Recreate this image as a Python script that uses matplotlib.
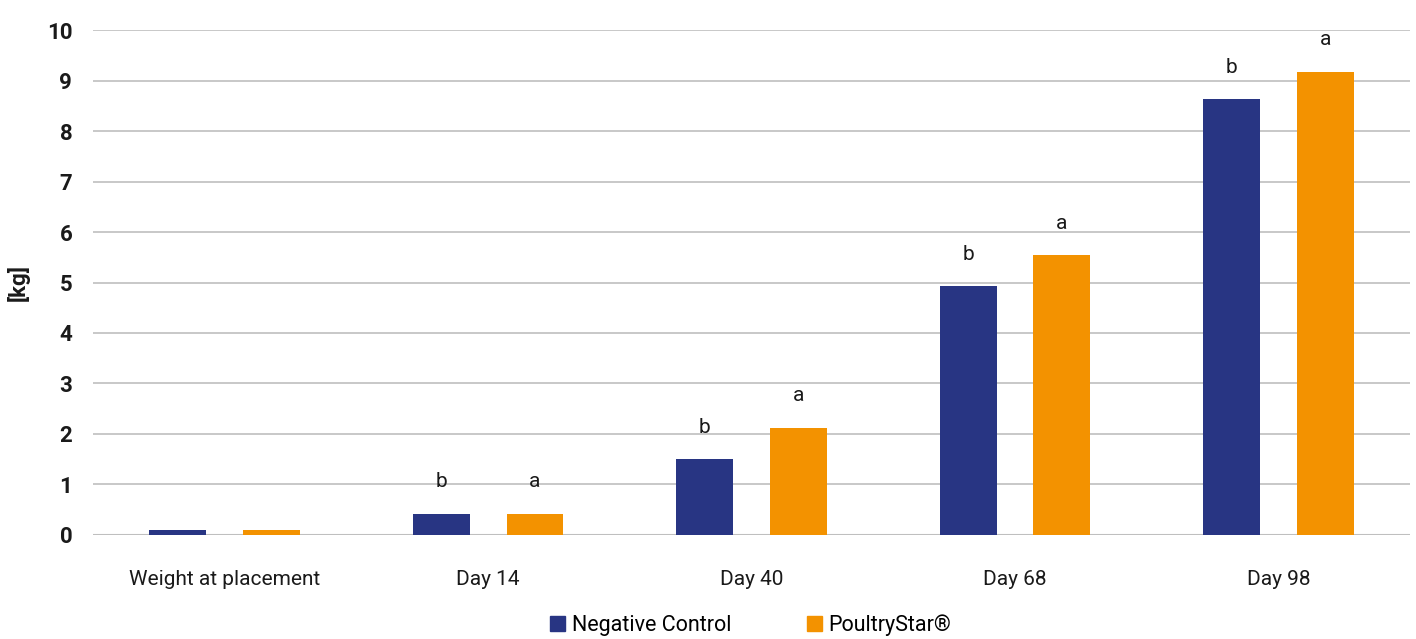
import matplotlib
matplotlib.use("Agg")
import matplotlib.pyplot as plt
import numpy as np
from matplotlib.patches import Patch

categories = ["Weight at placement", "Day 14", "Day 40", "Day 68", "Day 98"]
negative_control = [0.10, 0.42, 1.50, 4.93, 8.63]
poultrystar = [0.10, 0.42, 2.12, 5.54, 9.17]
nc_letters = ["", "b", "b", "b", "b"]
ps_letters = ["", "a", "a", "a", "a"]
series_names = ["Negative Control", "PoultryStar®"]
yticks = list(range(0, 11))

NAVY = "#283583"
ORANGE = "#F39200"

plt.rcParams['font.family'] = ['Roboto', 'DejaVu Sans']

fig = plt.figure(figsize=(14.16, 6.39), dpi=100)
ax = fig.add_axes([0.0657, 0.1628, 0.9301, 0.7902])

x = np.arange(len(categories))
off = 0.178
w = 0.216
ax.bar(x - off, negative_control, w, color=NAVY, zorder=3)
ax.bar(x + off, poultrystar, w, color=ORANGE, zorder=3)

for xi, v, t in zip(x - off, negative_control, nc_letters):
    if t:
        ax.annotate(t, (xi, v), xytext=(0, 23), textcoords="offset points",
                    ha="center", va="center", fontsize=15, color="#1a1a1a")
for xi, v, t in zip(x + off, poultrystar, ps_letters):
    if t:
        ax.annotate(t, (xi, v), xytext=(0, 23), textcoords="offset points",
                    ha="center", va="center", fontsize=15, color="#1a1a1a")

ax.set_xlim(-0.5, len(categories) - 0.5)
ax.set_ylim(0, 10)
ax.set_yticks(yticks)
ax.set_yticklabels([str(t) for t in yticks], fontsize=16, fontweight="bold", color="#1a1a1a")
ax.set_xticks(x)
ax.set_xticklabels(categories, fontsize=15, color="#1a1a1a")
ax.tick_params(axis="y", length=0, pad=15)
ax.tick_params(axis="x", length=0, pad=25)
ax.yaxis.grid(True, color="#bfbfbf", linewidth=1.2, zorder=0)
ax.set_axisbelow(True)
for s in ax.spines.values():
    s.set_visible(False)
ax.axhline(0, color="#bfbfbf", linewidth=1.5, zorder=2)

ax.set_ylabel("[kg]", fontsize=16, fontweight="bold", color="#1a1a1a", labelpad=12)

handles = [Patch(color=NAVY), Patch(color=ORANGE)]
fig.legend(handles, series_names, loc="center", bbox_to_anchor=(0.53, 0.022),
           ncol=2, frameon=False, fontsize=15.5, handlelength=0.7, handleheight=0.7,
           handletextpad=0.3, columnspacing=3.5)

fig.savefig("out.png", dpi=100)
